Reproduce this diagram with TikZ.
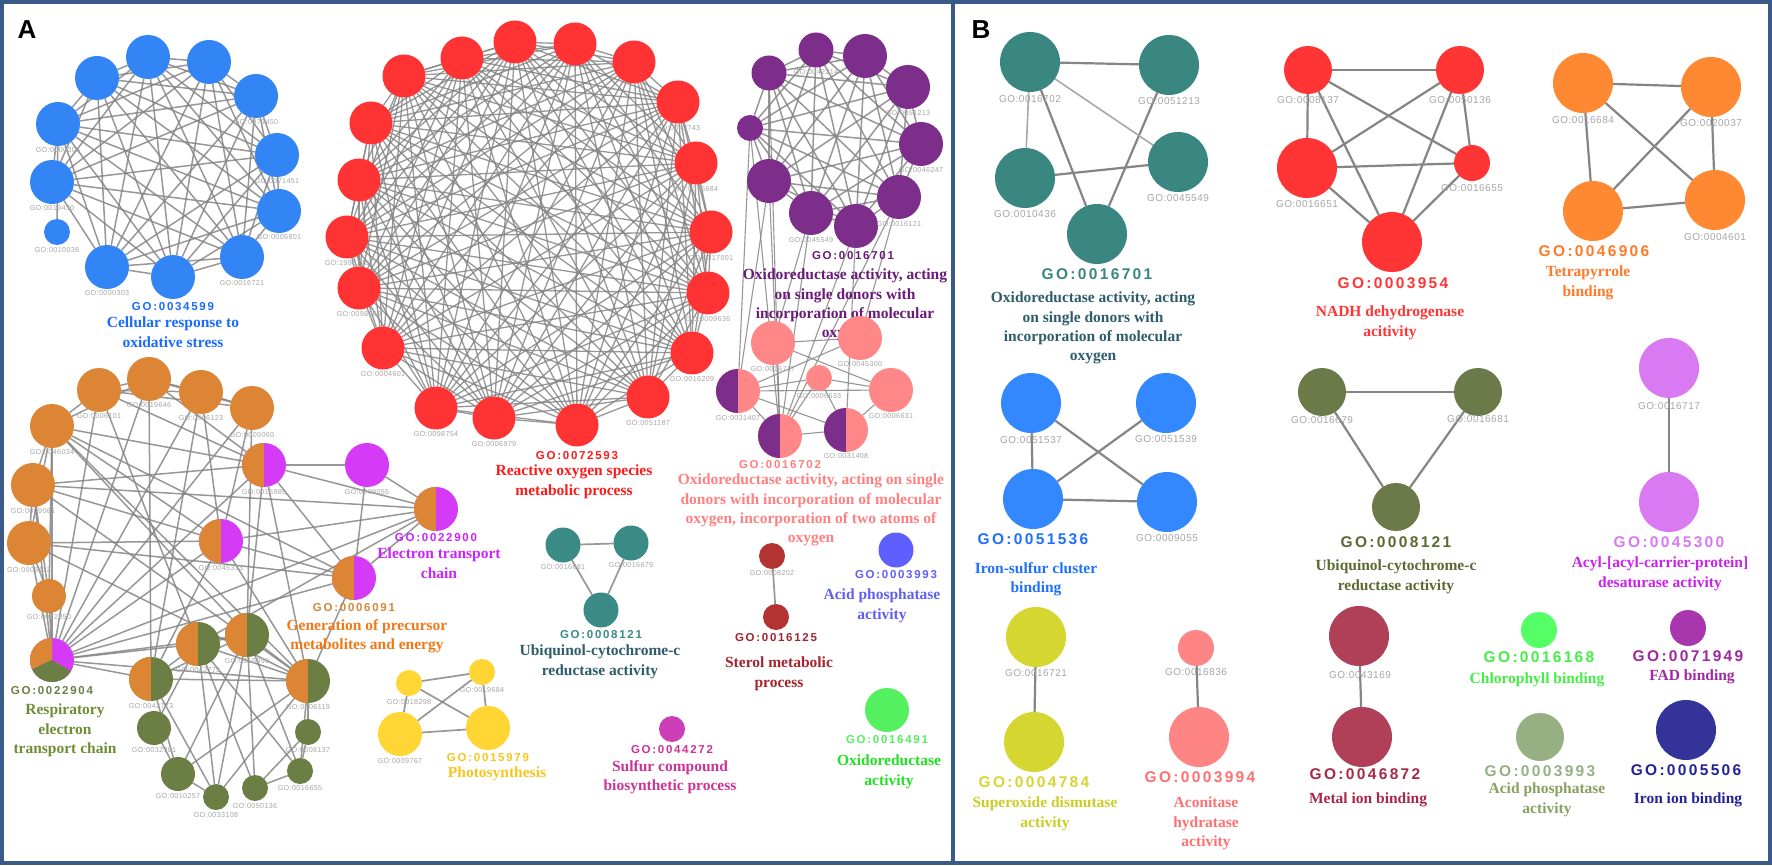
\documentclass[tikz,border=0pt]{standalone}
\usepackage{fontspec}
\setmainfont{Liberation Serif}
\newfontfamily\gosans[LetterSpace=15]{Liberation Sans}
\newfontfamily\lbsans[LetterSpace=5]{Liberation Sans}
\newfontfamily\pansans{Liberation Sans}
\usetikzlibrary{backgrounds}
\definecolor{framecol}{HTML}{3A5A8A}
\definecolor{edgegray}{HTML}{858585}
\definecolor{edgelight}{HTML}{A8A8A8}
\definecolor{lblgray}{HTML}{A6A6A6}
\definecolor{cblue}{HTML}{3385F5}
\definecolor{tblue}{HTML}{1A6BFF}
\definecolor{cred}{HTML}{FF3333}
\definecolor{tred}{HTML}{FF1A1A}
\definecolor{cpurple}{HTML}{7D2E8A}
\definecolor{tpurple}{HTML}{6A1A78}
\definecolor{cpink}{HTML}{FF8787}
\definecolor{tpink}{HTML}{FF8080}
\definecolor{corange}{HTML}{DC8535}
\definecolor{tgoorange}{HTML}{D4883A}
\definecolor{torange}{HTML}{F07818}
\definecolor{cmag}{HTML}{D53BF7}
\definecolor{tmag}{HTML}{CC22FF}
\definecolor{colive}{HTML}{6B7F45}
\definecolor{tolive}{HTML}{6E8E35}
\definecolor{cyellow}{HTML}{FFD633}
\definecolor{tyellow}{HTML}{F7C61E}
\definecolor{cteal}{HTML}{3A8A85}
\definecolor{tteal}{HTML}{2E5C6B}
\definecolor{csterol}{HTML}{B33232}
\definecolor{tsterol}{HTML}{A3242E}
\definecolor{cacid}{HTML}{5F5FFF}
\definecolor{tacid}{HTML}{6060F0}
\definecolor{cgreen}{HTML}{55F060}
\definecolor{tgreen}{HTML}{22E022}
\definecolor{csulf}{HTML}{CC3DB8}
\definecolor{tsulf}{HTML}{CC3399}
\definecolor{bteal}{HTML}{3A8782}
\definecolor{bred}{HTML}{FF3535}
\definecolor{borange}{HTML}{FF8833}
\definecolor{tborange}{HTML}{FF7A26}
\definecolor{bblue}{HTML}{3388FF}
\definecolor{tbblue}{HTML}{1E70FF}
\definecolor{bolive}{HTML}{6B7A48}
\definecolor{tbolive}{HTML}{5A6A30}
\definecolor{bviolet}{HTML}{D97AF2}
\definecolor{tbviolet}{HTML}{CC22EE}
\definecolor{bygreen}{HTML}{D6D630}
\definecolor{tbygreen}{HTML}{CCCC22}
\definecolor{bsalmon}{HTML}{FF8585}
\definecolor{tbsalmon}{HTML}{FF7070}
\definecolor{bmaroon}{HTML}{B04058}
\definecolor{tbmaroon}{HTML}{A8284A}
\definecolor{bchl}{HTML}{55FF66}
\definecolor{tbchl}{HTML}{44EE44}
\definecolor{bfad}{HTML}{A836AC}
\definecolor{tbfad}{HTML}{A028A0}
\definecolor{bsage}{HTML}{96B084}
\definecolor{tbsage}{HTML}{88A060}
\definecolor{bnavy}{HTML}{333399}
\definecolor{tbnavy}{HTML}{22229A}
\tikzset{
 gn/.style={circle,inner sep=0pt,outer sep=0pt,minimum size=2*#1},
 halfn/.style 2 args={fill=#2,path picture={\fill[#1] (path picture bounding box.south west) rectangle (path picture bounding box.north);}},
 edgeA/.style={draw=edgegray,line width=1.5pt,opacity=0.85},
 edgeB/.style={draw=edgegray,line width=2.2pt},
 edgeBt/.style={draw=edgelight,line width=1.6pt},
 slabA/.style={font={\lbsans\fontsize{7.2}{8}\selectfont},text=lblgray,inner sep=0pt},
 slabB/.style={font={\lbsans\fontsize{10}{11}\selectfont},text=lblgray,inner sep=0pt},
 goA/.style={font={\gosans\bfseries\fontsize{11.5}{13}\selectfont},inner sep=0pt},
 goB/.style={font={\gosans\bfseries\fontsize{15.5}{17}\selectfont},inner sep=0pt},
 desc/.style={font={\bfseries\fontsize{15.5}{19.3}\selectfont},align=center,inner sep=0pt,anchor=north},
 frame/.style={draw=framecol,line width=4pt},
 panlab/.style={font={\pansans\bfseries\fontsize{26}{28}\selectfont},inner sep=0pt}
}
\newcommand\mknode[5]{\node[gn=#4,fill=#5] (#1) at (#2,#3) {};}
\newcommand\mklab[4]{\node[slabA] (#1) at (#2,#3) {#4};}
\newcommand\mklabB[4]{\node[slabB] (#1) at (#2,#3) {#4};}
\begin{document}
\begin{tikzpicture}[x=1pt,y=-1pt]
\useasboundingbox (0,0) rectangle (1772,866);
% ---------------- Panel A: blue
\mknode{bl1}{148}{57}{22}{cblue}
\mknode{bl2}{209}{62}{22}{cblue}
\mknode{bl4}{256}{96}{22}{cblue}
\mknode{bl6}{277}{155}{22}{cblue}
\mknode{bl8}{279}{211}{22}{cblue}
\mknode{bl12}{242}{257}{22}{cblue}
\mknode{bl11}{173}{277}{22}{cblue}
\mknode{bl10}{107}{267}{22}{cblue}
\mknode{bls}{57}{232}{13}{cblue}
\mknode{bl7}{52}{182}{22}{cblue}
\mknode{bl5}{58}{124}{22}{cblue}
\mknode{bl3}{97}{78}{22}{cblue}
\mklab{lbl4}{256}{122}{GO:0071450}
\mklab{lbl5}{58}{150}{GO:0000305}
\mklab{lbl6}{277}{181}{GO:0071451}
\mklab{lbl7}{52}{208}{GO:0019430}
\mklab{lbl8}{279}{237}{GO:0006801}
\mklab{lbls}{57}{250}{GO:0010038}
\mklab{lbl10}{107}{293}{GO:0000303}
\mklab{lbl12}{242}{283}{GO:0016721}
\node[goA,text=tblue] (gobl) at (173,307) {GO:0034599};
\node[desc,text=tblue] (dbl) at (173,317) {Cellular response to\\oxidative stress};
% ---------------- red
\mknode{r1}{404}{76}{21.5}{cred}
\mknode{r2}{462}{58}{21.5}{cred}
\mknode{r3}{515}{42}{21.5}{cred}
\mknode{r4}{575}{44}{21.5}{cred}
\mknode{r5}{634}{62}{21.5}{cred}
\mknode{r6}{678}{102}{21.5}{cred}
\mknode{r7}{696}{163}{21.5}{cred}
\mknode{r8}{711}{232}{21.5}{cred}
\mknode{r9}{708}{293}{21.5}{cred}
\mknode{r10}{692}{353}{21.5}{cred}
\mknode{r11}{648}{397}{21.5}{cred}
\mknode{r12}{577}{425}{21.5}{cred}
\mknode{r13}{494}{418}{21.5}{cred}
\mknode{r14}{436}{408}{21.5}{cred}
\mknode{r15}{383}{348}{21.5}{cred}
\mknode{r16}{359}{288}{21.5}{cred}
\mknode{r17}{347}{237}{21.5}{cred}
\mknode{r18}{359}{180}{21.5}{cred}
\mknode{r19}{371}{123}{21.5}{cred}
\mklab{lr6}{678}{128}{GO:0042743}
\mklab{lr7}{696}{189}{GO:0016684}
\mklab{lr8}{711}{258}{GO:0017001}
\mklab{lr9}{708}{319}{GO:0009636}
\mklab{lr10}{692}{379}{GO:0016209}
\mklab{lr11}{648}{423}{GO:0051187}
\mklab{lr13}{494}{444}{GO:0006979}
\mklab{lr14}{436}{434}{GO:0098754}
\mklab{lr15}{383}{374}{GO:0004601}
\mklab{lr16}{359}{314}{GO:0098869}
\mklab{lr17}{347}{263}{GO:1990748}
\node[goA,text=tred] (gor) at (577,456) {GO:0072593};
\node[desc,text=tred] (dr) at (574,465) {Reactive oxygen species\\metabolic process};
% ---------------- purple
\mknode{p1}{769}{73}{17.5}{cpurple}
\mknode{p2}{816}{50}{17.5}{cpurple}
\mknode{p3}{865}{56}{22}{cpurple}
\mknode{p4}{908}{87}{22}{cpurple}
\mknode{p5}{750}{128}{13}{cpurple}
\mknode{p6}{921}{144}{22}{cpurple}
\mknode{p7}{769}{181}{22}{cpurple}
\mknode{p8}{899}{197}{22}{cpurple}
\mknode{p9}{811}{213}{22}{cpurple}
\mknode{p10}{856}{226}{22}{cpurple}
\mklab{lp2}{816}{72}{GO:0042214}
\mklab{lp4}{908}{113}{GO:0051213}
\mklab{lp6}{921}{170}{GO:0046247}
\mklab{lp8}{899}{224}{GO:0016121}
\mklab{lp9}{811}{240}{GO:0045549}
\node[goA,text=tpurple] (gop) at (853,256) {GO:0016701};
\node[desc,text=tpurple] (dp) at (845,269) {Oxidoreductase activity, acting\\on single donors with\\incorporation of molecular\\oxygen};
% ---------------- pink
\mknode{q1}{773}{343}{22}{cpink}
\mknode{q2}{860}{338}{22}{cpink}
\mknode{q3}{819}{378}{13}{cpink}
\mknode{q4}{891}{390}{22}{cpink}
\node[gn=22,halfn={cpurple}{cpink}] (h1) at (738,391) {};
\node[gn=22,halfn={cpurple}{cpink}] (h2) at (780,436) {};
\node[gn=22,halfn={cpurple}{cpink}] (h3) at (846,430) {};
\mklab{lq1}{773}{369}{GO:0016717}
\mklab{lq2}{860}{364}{GO:0045300}
\mklab{lq3}{819}{396}{GO:0006633}
\mklab{lq4}{891}{416}{GO:0006631}
\mklab{lh1}{738}{418}{GO:0031407}
\mklab{lh3}{846}{456}{GO:0031408}
\node[goA,text=tpink] (goq) at (780,465) {GO:0016702};
\node[desc,text=tpink] (dq) at (811,474) {Oxidoreductase activity, acting on single\\donors with incorporation of molecular\\oxygen, incorporation of two atoms of\\oxygen};
% ---------------- orange / respiration
\mknode{o1}{149}{379}{22}{corange}
\mknode{o2}{99}{390}{22}{corange}
\mknode{o3}{201}{392}{22}{corange}
\mknode{o4}{252}{408}{22}{corange}
\mknode{o5}{52}{426}{22}{corange}
\mknode{o6}{33}{485}{22}{corange}
\mknode{o7}{29}{543}{22}{corange}
\mknode{o8}{49}{596}{17}{corange}
\mknode{mg}{367}{465}{22}{cmag}
\node[gn=22,halfn={corange}{cmag}] (m1) at (264,465) {};
\node[gn=22,halfn={corange}{cmag}] (m2) at (221,541) {};
\node[gn=22,halfn={corange}{cmag}] (m3) at (354,578) {};
\node[gn=22,halfn={corange}{cmag}] (m4) at (436,509) {};
\node[gn=22,fill=cmag,path picture={
  \fill[corange] (path picture bounding box.center) -- ++(90:24pt) arc[start angle=90,end angle=205,radius=24pt] -- cycle;
  \fill[colive] (path picture bounding box.center) -- ++(205:24pt) arc[start angle=205,end angle=330,radius=24pt] -- cycle;}] (t1) at (52,660) {};
\node[gn=22,halfn={corange}{colive}] (g1) at (151,679) {};
\node[gn=22,halfn={corange}{colive}] (g2) at (198,644) {};
\node[gn=22,halfn={corange}{colive}] (g3) at (247,635) {};
\node[gn=22,halfn={corange}{colive}] (g4) at (308,681) {};
\mknode{gr1}{154}{728}{17}{colive}
\mknode{gr2}{178}{774}{17}{colive}
\mknode{gr3}{216}{797}{13}{colive}
\mknode{gr4}{255}{788}{13}{colive}
\mknode{gr5}{300}{771}{13}{colive}
\mknode{gr6}{308}{732}{13}{colive}
\mklab{lo1}{149}{405}{GO:0019646}
\mklab{lo2}{99}{416}{GO:0006101}
\mklab{lo3}{201}{418}{GO:0006123}
\mklab{lo4}{252}{435}{GO:0009060}
\mklab{lo5}{52}{452}{GO:0046034}
\mklab{lm1}{264}{492}{GO:0015985}
\mklab{lo6}{33}{511}{GO:0009061}
\mklab{lm2}{221}{568}{GO:0045333}
\mklab{lo7}{29}{570}{GO:0006112}
\mklab{lo8}{49}{617}{GO:0072350}
\mklab{lmg}{367}{492}{GO:0009055}
\mklab{lg1}{151}{706}{GO:0042773}
\mklab{lg2}{198}{670}{GO:0042775}
\mklab{lg3}{247}{661}{GO:0015990}
\mklab{lg4}{308}{707}{GO:0006119}
\mklab{lgr1}{154}{750}{GO:0032981}
\mklab{lgr2}{178}{796}{GO:0010257}
\mklab{lgr3}{216}{815}{GO:0033108}
\mklab{lgr4}{255}{806}{GO:0050136}
\mklab{lgr5}{300}{788}{GO:0016655}
\mklab{lgr6}{308}{750}{GO:0008137}
\node[goA,text=tgoorange] (gom3) at (354,608) {GO:0006091};
\node[desc,text=torange] (dm3) at (367,619) {Generation of precursor\\metabolites and energy};
\node[goA,text=tmag] (gom4) at (436,538) {GO:0022900};
\node[desc,text=tmag] (dm4) at (439,548) {Electron transport\\chain};
\node[goA,text=colive] (got1) at (52,691) {GO:0022904};
\node[desc,text=tolive] (dt1) at (65,704) {Respiratory\\electron\\transport chain};
% ---------------- yellow
\mknode{ys1}{409}{683}{13}{cyellow}
\mknode{ys2}{482}{672}{13}{cyellow}
\mknode{yb1}{400}{734}{22}{cyellow}
\mknode{yb2}{488}{728}{22}{cyellow}
\mklab{lys1}{409}{702}{GO:0018298}
\mklab{lys2}{482}{690}{GO:0019684}
\mklab{lyb1}{400}{761}{GO:0009767}
\node[goA,text=tyellow] (goy) at (488,758) {GO:0015979};
\node[desc,text=tyellow] (dy) at (497,767) {Photosynthesis};
% ---------------- teal
\mknode{ta1}{563}{545}{17.5}{cteal}
\mknode{ta2}{631}{543}{17.5}{cteal}
\mknode{ta3}{601}{610}{17.5}{cteal}
\mklab{lta1}{563}{567}{GO:0016681}
\mklab{lta2}{631}{565}{GO:0016679}
\node[goA,text=cteal] (gota) at (601,635) {GO:0008121};
\node[desc,text=tteal] (dta) at (600,645) {Ubiquinol-cytochrome-c\\reductase activity};
% ---------------- sterol, acid, green, sulfur
\mknode{st1}{772}{556}{13}{csterol}
\mknode{st2}{776}{617}{13}{csterol}
\mklab{lst1}{772}{573}{GO:0008202}
\node[goA,text=tsterol] (gost) at (776,638) {GO:0016125};
\node[desc,text=tsterol] (dst) at (779,657) {Sterol metabolic\\process};
\mknode{ac}{896}{550}{17.5}{cacid}
\node[goA,text=tacid] (goac) at (896,575) {GO:0003993};
\node[desc,text=tacid] (dac) at (882,589) {Acid phosphatase\\activity};
\mknode{gx}{887}{710}{22}{cgreen}
\node[goA,text=cgreen] (gogx) at (887,740) {GO:0016491};
\node[desc,text=tgreen] (dgx) at (889,755) {Oxidoreductase\\activity};
\mknode{su}{672}{729}{13}{csulf}
\node[goA,text=tsulf] (gosu) at (672,750) {GO:0044272};
\node[desc,text=tsulf] (dsu) at (670,760) {Sulfur compound\\biosynthetic process};
% ---------------- Panel B
\mknode{b1}{1030}{62}{30}{bteal}
\mknode{b2}{1169}{65}{30}{bteal}
\mknode{b3}{1025}{178}{30}{bteal}
\mknode{b4}{1178}{162}{30}{bteal}
\mknode{b5}{1097}{234}{30}{bteal}
\mklabB{lb1}{1030}{99}{GO:0016702}
\mklabB{lb2}{1169}{101}{GO:0051213}
\mklabB{lb3}{1025}{214}{GO:0010436}
\mklabB{lb4}{1178}{198}{GO:0045549}
\node[goB,text=bteal] (gob) at (1097,274) {GO:0016701};
\node[desc,text=tteal] (db) at (1093,292) {Oxidoreductase activity, acting\\on single donors with\\incorporation of molecular\\oxygen};
\mknode{c1}{1308}{70}{24}{bred}
\mknode{c2}{1460}{70}{24}{bred}
\mknode{c3}{1307}{168}{30}{bred}
\mknode{c4}{1472}{163}{18}{bred}
\mknode{c5}{1392}{242}{30}{bred}
\mklabB{lc1}{1308}{100}{GO:0008137}
\mklabB{lc2}{1460}{100}{GO:0050136}
\mklabB{lc3}{1307}{204}{GO:0016651}
\mklabB{lc4}{1472}{188}{GO:0016655}
\node[goB,text=bred] (goc) at (1393,283) {GO:0003954};
\node[desc,text=bred] (dc) at (1390,306) {NADH dehydrogenase\\acitivity};
\mknode{d1}{1583}{83}{30}{borange}
\mknode{d2}{1711}{87}{30}{borange}
\mknode{d3}{1593}{211}{30}{borange}
\mknode{d4}{1715}{200}{30}{borange}
\mklabB{ld1}{1583}{120}{GO:0016684}
\mklabB{ld2}{1711}{123}{GO:0020037}
\mklabB{ld4}{1715}{237}{GO:0004601}
\node[goB,text=tborange] (god) at (1594,251) {GO:0046906};
\node[desc,text=tborange] (dd) at (1588,266) {Tetrapyrrole\\binding};
\mknode{e1}{1031}{403}{30}{bblue}
\mknode{e2}{1166}{403}{30}{bblue}
\mknode{e3}{1033}{499}{30}{bblue}
\mknode{e4}{1167}{502}{30}{bblue}
\mklabB{le1}{1031}{440}{GO:0051537}
\mklabB{le2}{1166}{439}{GO:0051539}
\mklabB{le4}{1167}{538}{GO:0009055}
\node[goB,text=tbblue] (goe) at (1033,539) {GO:0051536};
\node[desc,text=tbblue] (de) at (1036,562) {Iron-sulfur cluster\\binding};
\mknode{f1}{1322}{392}{24}{bolive}
\mknode{f2}{1478}{392}{24}{bolive}
\mknode{f3}{1396}{507}{24}{bolive}
\mklabB{lf1}{1322}{420}{GO:0016679}
\mklabB{lf2}{1478}{419}{GO:0016681}
\node[goB,text=tbolive] (gof) at (1396,542) {GO:0008121};
\node[desc,text=tbolive] (df) at (1396,560) {Ubiquinol-cytochrome-c\\reductase activity};
\mknode{v1}{1669}{368}{30}{bviolet}
\mknode{v2}{1669}{502}{30}{bviolet}
\mklabB{lv1}{1669}{406}{GO:0016717}
\node[goB,text=bviolet] (gov) at (1669,542) {GO:0045300};
\node[desc,text=tbviolet] (dv) at (1660,557) {Acyl-[acyl-carrier-protein]\\desaturase activity};
\mknode{y1}{1036}{637}{30}{bygreen}
\mknode{y2}{1034}{742}{30}{bygreen}
\mklabB{ly1}{1036}{673}{GO:0016721}
\node[goB,text=bygreen] (goyb) at (1034,782) {GO:0004784};
\node[desc,text=tbygreen] (dyb) at (1045,797) {Superoxide dismutase\\activity};
\mknode{s1}{1196}{648}{18}{bsalmon}
\mknode{s2}{1199}{737}{30}{bsalmon}
\mklabB{ls1}{1196}{672}{GO:0016836}
\node[goB,text=tbsalmon] (gos) at (1200,777) {GO:0003994};
\node[desc,text=tbsalmon] (ds) at (1206,797) {Aconitase\\hydratase\\activity};
\mknode{w1}{1359}{636}{30}{bmaroon}
\mknode{w2}{1362}{737}{30}{bmaroon}
\mklabB{lw1}{1360}{675}{GO:0043169}
\node[goB,text=tbmaroon] (gow) at (1365,774) {GO:0046872};
\node[desc,text=tbmaroon] (dw) at (1368,793) {Metal ion binding};
\mknode{ch}{1539}{630}{18}{bchl}
\node[goB,text=tbchl] (goch) at (1539,657) {GO:0016168};
\node[desc,text=tbchl] (dch) at (1537,673) {Chlorophyll binding};
\mknode{fa}{1688}{628}{18}{bfad}
\node[goB,text=tbfad] (gofa) at (1688,656) {GO:0071949};
\node[desc,text=tbfad] (dfa) at (1692,670) {FAD binding};
\mknode{sa}{1540}{737}{24}{bsage}
\node[goB,text=bsage] (gosa) at (1540,771) {GO:0003993};
\node[desc,text=tbsage] (dsa) at (1547,783) {Acid phosphatase\\activity};
\mknode{na}{1686}{730}{30}{bnavy}
\node[goB,text=tbnavy] (gona) at (1686,770) {GO:0005506};
\node[desc,text=tbnavy] (dna) at (1688,793) {Iron ion binding};
% ---------------- edges
\begin{scope}[on background layer]
 \fill[white] (0,0) rectangle (1772,866);
 \foreach \a/\b in {bl1/bl2,bl1/bl4,bl1/bl6,bl1/bl8,bl1/bl12,bl1/bl11,bl1/bl10,bl1/bl7,bl1/bl5,bl1/bl3,
   bl2/bl4,bl2/bl6,bl2/bl8,bl2/bl12,bl2/bl11,bl2/bl10,bl2/bl7,bl2/bl5,bl2/bl3,
   bl4/bl6,bl4/bl8,bl4/bl12,bl4/bl11,bl4/bl10,bl4/bl7,bl4/bl5,bl4/bl3,
   bl6/bl8,bl6/bl12,bl6/bl11,bl6/bl10,bl6/bl7,bl6/bl5,bl6/bl3,
   bl8/bl12,bl8/bl11,bl8/bl10,bl8/bl7,bl8/bl5,bl8/bl3,
   bl12/bl11,bl12/bl10,bl12/bl7,bl12/bl5,bl12/bl3,
   bl11/bl10,bl11/bl7,bl11/bl5,bl11/bl3,
   bl10/bl7,bl10/bl5,bl10/bl3,bl7/bl5,bl7/bl3,bl5/bl3,bls/bl5}
   \draw[edgeA] (\a) -- (\b);
 \foreach \i in {1,...,18}{\pgfmathtruncatemacro\k{\i+1}
   \foreach \j in {\k,...,19}{\draw[edgeA,line width=1.3pt] (r\i) -- (r\j);}}
 \foreach \i in {1,...,9}{\pgfmathtruncatemacro\k{\i+1}
   \foreach \j in {\k,...,10}{\draw[edgeA] (p\i) -- (p\j);}}
 \foreach \a/\b in {p5/h2,p7/h2,p1/h2,p9/h2,p10/h2,p8/h2,p7/h1,p5/h1,p10/h3,p8/q2,p9/q1,
   q1/q2,q1/q4,h1/q3,h1/q4,h1/h2,h1/h3,h2/h3,h3/q3,h3/q4,q3/q4,h1/q2,h2/q3}
   \draw[edgeA,line width=1.1pt] (\a) -- (\b);
 \foreach \a/\b in {o1/o2,o1/o3,o2/o3,o3/o4,o1/o4,o2/o4,o2/o5,o5/o6,o6/o7,o7/o8,o5/o7,o6/o8,o5/o8,o1/o5,
   o1/g1,o2/t1,o5/m1,o6/m1,o7/m2,o5/m2,o6/m2,o5/g3,o5/g4,o6/g4,o2/g2,o3/t1,o4/t1,o3/g1,o4/m2,o3/m2,o4/g3,o1/m1,o2/m1,
   m1/m4,mg/m4,mg/m3,m1/m3,m4/m3,m2/m4,m2/m3,m1/mg,o6/m4,o5/m3,o7/g4,o7/m3,
   t1/m4,t1/m1,t1/m2,t1/g1,t1/g2,t1/g3,t1/g4,t1/o5,t1/o6,t1/o7,t1/o8,t1/o1,t1/m3,
   g1/g4,g1/g2,g2/g3,g1/g3,g2/g4,g3/g4,m1/g3,m1/g4,m2/g1,m2/g4,m4/g2,m3/g4,
   g1/gr2,g1/gr3,g2/gr3,g2/gr4,g2/gr5,g3/gr4,g3/gr5,g3/gr3,g4/gr5,g4/gr6,g4/gr2,g3/gr2,g2/gr1,g4/gr3,
   gr1/gr2,gr2/gr3,gr4/gr5,gr5/gr6,gr4/gr6}
   \draw[edgeA] (\a) -- (\b);
 \foreach \a/\b in {ys1/ys2,ys1/yb1,ys1/yb2,ys2/yb1,ys2/yb2,yb1/yb2,ta1/ta2,ta1/ta3,ta2/ta3,st1/st2}
   \draw[edgeA,line width=1.7pt] (\a) -- (\b);
 \foreach \a/\b in {b1/b2,b1/b5,b3/b4,b2/b5,c1/c2,c1/c3,c1/c4,c1/c5,c2/c3,c2/c4,c2/c5,c3/c4,c3/c5,c4/c5,
   d1/d2,d1/d3,d1/d4,d2/d3,d2/d4,d3/d4,e1/e3,e2/e3,e1/e4,e3/e4,f1/f2,f1/f3,f2/f3,v1/v2,y1/y2,s1/s2,w1/w2}
   \draw[edgeB] (\a) -- (\b);
 \foreach \a/\b in {b1/b3,b1/b4}
   \draw[edgeBt] (\a) -- (\b);
\end{scope}
% ---------------- frames and panel letters
\draw[frame] (2,2) rectangle (953,863);
\draw[frame] (953,2) rectangle (1769.5,863);
\node[panlab] (la) at (27,30) {A};
\node[panlab] (lb) at (981,30) {B};
\end{tikzpicture}
\end{document}
